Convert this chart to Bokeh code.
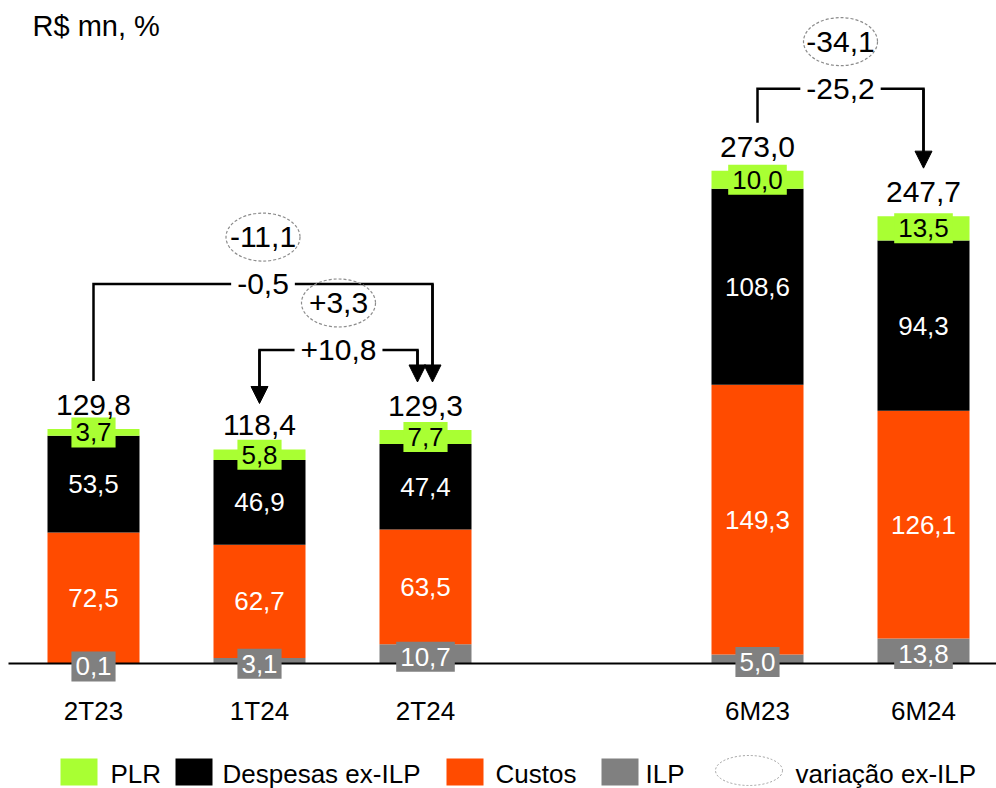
from bokeh.plotting import figure
from bokeh.models import Arrow, NormalHead
from bokeh.embed import file_html
from bokeh.resources import INLINE
from bokeh.core.properties import value

# ---------------- data ----------------
categories = ["2T23", "1T24", "2T24", "6M23", "6M24"]
ilp = [0.1, 3.1, 10.7, 5.0, 13.8]
custos = [72.5, 62.7, 63.5, 149.3, 126.1]
despesas = [53.5, 46.9, 47.4, 108.6, 94.3]
plr = [3.7, 5.8, 7.7, 10.0, 13.5]
totals = [129.8, 118.4, 129.3, 273.0, 247.7]

variacao = ["-0,5", "+10,8", "-25,2"]
variacao_ex_ilp = ["-11,1", "+3,3", "-34,1"]
pares = [(0, 2), (1, 2), (3, 4)]

legend_labels = ["PLR", "Despesas ex-ILP", "Custos", "ILP", "variação ex-ILP"]
unit_label = "R$ mn, %"

# ---------------- styles / layout ----------------
C_PLR = "#A9FF33"
C_DESP = "#000000"
C_CUST = "#FF4B00"
C_ILP = "#808080"
FONT = value("Liberation Sans")

W, H = 996, 788
PX = 166.0      # px per category slot
X0 = 93.0       # px of first bar center
S = 1.806       # px per unit
BASE = 663.0    # px of baseline


def fmt(v):
    return f"{v:.1f}".replace(".", ",")


def dx(px):
    return px / PX


def dy(px):
    return px / S


def xd(px):
    return (px - X0) / PX


def yd(py):
    return (BASE - py) / S


p = figure(width=W, height=H, x_range=(xd(0), xd(W)), y_range=(yd(H), yd(0)),
           min_border=0, toolbar_location=None, output_backend="svg",
           x_axis_type=None, y_axis_type=None)
p.grid.visible = False
p.outline_line_color = None
p.background_fill_color = "white"
p.border_fill_color = "white"

xs = [i if i < 3 else i + 1 for i in range(len(categories))]
bw = dx(92)

b1 = ilp
b2 = [a + b for a, b in zip(b1, custos)]
b3 = [a + b for a, b in zip(b2, despesas)]
b4 = [a + b for a, b in zip(b3, plr)]

p.vbar(x=xs, width=bw, bottom=0, top=b1, fill_color=C_ILP, line_color=None)
p.vbar(x=xs, width=bw, bottom=b1, top=b2, fill_color=C_CUST, line_color=None)
p.vbar(x=xs, width=bw, bottom=b2, top=b3, fill_color=C_DESP, line_color=None)
p.vbar(x=xs, width=bw, bottom=b3, top=b4, fill_color=C_PLR, line_color=None)

# baseline
p.line(x=[xd(8), xd(W)], y=[0, 0], line_color="black", line_width=2)

# segment labels
p.text(x=xs, y=[(a + b) / 2 for a, b in zip(b1, b2)], text=[fmt(v) for v in custos],
       text_color="white", text_font=FONT, text_font_size="26px",
       text_align="center", text_baseline="middle")
p.text(x=xs, y=[(a + b) / 2 for a, b in zip(b2, b3)], text=[fmt(v) for v in despesas],
       text_color="white", text_font=FONT, text_font_size="26px",
       text_align="center", text_baseline="middle")
p.text(x=xs, y=[v / 2 - dy(3) for v in ilp], text=[fmt(v) for v in ilp],
       text_color="white", text_font=FONT, text_font_size="26px",
       text_align="center", text_baseline="middle",
       background_fill_color=C_ILP, padding=(4, 6))
p.text(x=xs, y=[(a + b) / 2 for a, b in zip(b3, b4)], text=[fmt(v) for v in plr],
       text_color="black", text_font=FONT, text_font_size="26px",
       text_align="center", text_baseline="middle",
       background_fill_color=C_PLR, padding=(4, 6))

# totals
p.text(x=xs, y=[t + dy(24) for t in b4], text=[fmt(v) for v in totals],
       text_color="black", text_font=FONT, text_font_size="30px",
       text_align="center", text_baseline="middle")

# category labels
p.text(x=xs, y=[yd(710)] * len(xs), text=categories,
       text_color="black", text_font=FONT, text_font_size="26px",
       text_align="center", text_baseline="middle")

# unit label
p.text(x=[xd(32)], y=[yd(25)], text=[unit_label], text_color="black",
       text_font=FONT, text_font_size="29px", text_align="left",
       text_baseline="alphabetic")

# brackets
levels_px = [145, 80, 82]
right_shift = [7, -8, 0]
left_arrow = [False, True, False]
gap = dy(48)
for k, (a, b) in enumerate(pares):
    xa = xs[a]
    xb = xs[b] + dx(right_shift[k])
    lvl = max(b4[a], b4[b]) + dy(levels_px[k])
    ya = b4[a] + gap
    yb = b4[b] + gap
    if left_arrow[k]:
        p.line(x=[xa, xa, xb, xb], y=[ya + dy(8), lvl, lvl, yb + dy(8)],
               line_color="black", line_width=2.5, line_join="miter")
        p.add_layout(Arrow(end=NormalHead(size=17, fill_color="black", line_color="black"),
                           x_start=xa, y_start=lvl, x_end=xa, y_end=ya - dy(2),
                           line_width=2.5, line_color="black"))
    else:
        p.line(x=[xa, xa, xb, xb], y=[ya, lvl, lvl, yb + dy(8)],
               line_color="black", line_width=2.5, line_join="miter")
    p.add_layout(Arrow(end=NormalHead(size=17, fill_color="black", line_color="black"),
                       x_start=xb, y_start=lvl, x_end=xb, y_end=yb,
                       line_width=2.5, line_color="black"))
    xm = (xa + xb) / 2
    p.text(x=[xm], y=[lvl], text=[variacao[k]], text_color="black",
           text_font=FONT, text_font_size="30px", text_align="center",
           text_baseline="middle", background_fill_color="white", padding=6)
    p.ellipse(x=[xm], y=[lvl + dy(47)], width=dx(74), height=dy(48),
              fill_color=None, line_color="#8c8c8c", line_dash="3 2", line_width=1.2)
    p.text(x=[xm], y=[lvl + dy(47)], text=[variacao_ex_ilp[k]], text_color="black",
           text_font=FONT, text_font_size="30px", text_align="center",
           text_baseline="middle")

# legend
sq_left = [60, 175, 446, 601]
sq_cols = [C_PLR, C_DESP, C_CUST, C_ILP]
txt_left = [110, 222, 495, 645, 795]
p.rect(x=[xd(v + 18.5) for v in sq_left], y=[yd(771.5)] * 4, width=dx(37), height=dy(27),
       fill_color=sq_cols, line_color=None)
p.ellipse(x=[xd(748.5)], y=[yd(770)], width=dx(67), height=dy(30), fill_color=None,
          line_color="#a0a0a0", line_dash="2 2", line_width=1)
p.text(x=[xd(v) for v in txt_left], y=[yd(773)] * 5, text=legend_labels,
       text_color="black", text_font=FONT, text_font_size="26px",
       text_align="left", text_baseline="middle")

open("out.html", "w").write(file_html(p, INLINE))
